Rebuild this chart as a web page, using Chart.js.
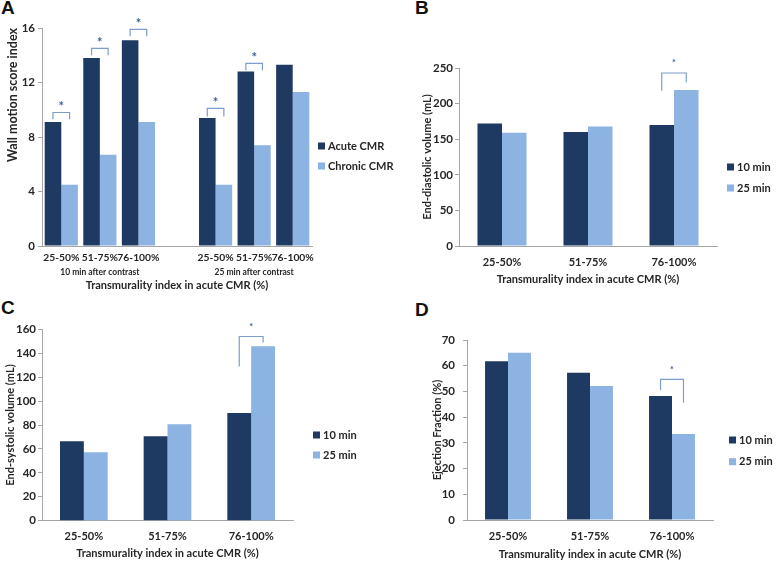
<!DOCTYPE html>
<html>
<head>
<meta charset="utf-8">
<script src="https://cdn.jsdelivr.net/npm/chart.js@4"></script>
<style>
  body { margin: 0; background: #fff; width: 778px; height: 562px; position: relative; overflow: hidden; }
  canvas { position: absolute; }
  .tag { position: absolute; font: bold 19px "Liberation Sans", Arial, sans-serif; color: #111; line-height: 1; }
</style>
</head>
<body>
<div class="tag" style="left:1px;top:-2px">A</div>
<div class="tag" style="left:415px;top:-2px">B</div>
<div class="tag" style="left:1px;top:298px">C</div>
<div class="tag" style="left:415px;top:300px">D</div>
<canvas id="chartA" width="400" height="295" style="left:0;top:0"></canvas>
<canvas id="chartB" width="389" height="295" style="left:389px;top:0"></canvas>
<canvas id="chartC" width="389" height="267" style="left:0;top:295px"></canvas>
<canvas id="chartD" width="389" height="267" style="left:389px;top:295px"></canvas>
<script>
// --- datos ---
const catsA = ['25-50%', '51-75%', '76-100%', '', '25-50%', '51-75%', '76-100%'];
const groupsA = ['', '10 min after contrast', '', '', '', '25 min after contrast', ''];
const acuteA = [9.1, 13.8, 15.1, null, 9.4, 12.8, 13.3];
const chronicA = [4.5, 6.7, 9.1, null, 4.5, 7.4, 11.3];

const cats = ['25-50%', '51-75%', '76-100%'];
const edv10 = [172, 160, 170];
const edv25 = [159, 168, 219];
const esv10 = [66.5, 70.6, 90];
const esv25 = [57.2, 80.6, 145.8];
const ef10 = [61.7, 57.3, 48.2];
const ef25 = [65, 52.1, 33.4];

// corchetes de significancia: categoria, altura del corchete, fin de cada pata
const sigA = [
  { cat: 0, top: 9.8, left: 9.3, right: 9.3 },
  { cat: 1, top: 14.5, left: 14.0, right: 14.0 },
  { cat: 2, top: 15.9, left: 15.4, right: 15.4 },
  { cat: 4, top: 10.1, left: 9.5, right: 9.5 },
  { cat: 5, top: 13.4, left: 12.9, right: 12.9 }
];
const sigB = [{ cat: 2, top: 243, left: 218, right: 230 }];
const sigC = [{ cat: 2, top: 154, left: 129, right: 149 }];
const sigD = [{ cat: 2, top: 54.7, left: 50.6, right: 45.6 }];

// --- estilos ---
const navy = '#1f3a62';
const sky = '#8db3e2';
const axisGray = '#a6a6a6';
const bracketBlue = '#7d9dcc';

Chart.defaults.font.family = 'Lato, "Open Sans", sans-serif';
Chart.defaults.color = '#262626';
Chart.defaults.animation = false;

// leyenda a la derecha, dibujada a mano
function legendPlugin(x, y, gap) {
  return {
    id: 'sideLegend',
    afterDraw(chart) {
      const ctx = chart.ctx;
      ctx.save();
      chart.data.datasets.forEach((ds, i) => {
        const yy = y + i * gap;
        ctx.fillStyle = ds.backgroundColor;
        ctx.fillRect(x, yy - 3.5, 7, 7);
        ctx.fillStyle = '#262626';
        ctx.font = 'bold 11px Lato, sans-serif';
        ctx.textBaseline = 'middle';
        ctx.textAlign = 'left';
        ctx.fillText(ds.label, x + 10, yy);
      });
      ctx.restore();
    }
  };
}

// corchetes con asterisco
function bracketPlugin(marks, starFont, starGap) {
  return {
    id: 'sigBrackets',
    afterDatasetsDraw(chart) {
      const ctx = chart.ctx;
      const y = chart.scales.y;
      const m0 = chart.getDatasetMeta(0);
      const m1 = chart.getDatasetMeta(1);
      ctx.save();
      ctx.strokeStyle = bracketBlue;
      ctx.lineWidth = 1.2;
      marks.forEach(s => {
        const x0 = m0.data[s.cat].x;
        const x1 = m1.data[s.cat].x;
        const yt = y.getPixelForValue(s.top);
        ctx.beginPath();
        ctx.moveTo(x0, y.getPixelForValue(s.left));
        ctx.lineTo(x0, yt);
        ctx.lineTo(x1, yt);
        ctx.lineTo(x1, y.getPixelForValue(s.right));
        ctx.stroke();
        ctx.fillStyle = '#3b5f95';
        ctx.font = starFont;
        ctx.textAlign = 'center';
        ctx.textBaseline = 'middle';
        ctx.fillText('*', (x0 + x1) / 2, yt - starGap);
      });
      ctx.restore();
    }
  };
}

// rótulos de grupo bajo el eje x (panel A)
function groupPlugin(groups, yPos) {
  return {
    id: 'groupLabels',
    afterDraw(chart) {
      const ctx = chart.ctx;
      const x = chart.scales.x;
      ctx.save();
      ctx.fillStyle = '#262626';
      ctx.font = 'bold 8.5px Lato, sans-serif';
      ctx.textAlign = 'center';
      ctx.textBaseline = 'middle';
      groups.forEach((g, i) => {
        if (g) ctx.fillText(g, x.getPixelForValue(i), yPos);
      });
      ctx.restore();
    }
  };
}

function yAxis(max, step, width, pad, title, titleSize, titlePad, align) {
  return {
    min: 0, max: max,
    ticks: { stepSize: step, padding: pad, font: { size: 11.5, weight: 'bold' } },
    grid: { drawOnChartArea: false, tickLength: 4, color: axisGray },
    border: { color: axisGray },
    title: { display: true, text: title, align: align || 'center', font: { size: titleSize, weight: 'bold' }, padding: { top: titlePad } },
    afterFit: s => { s.width = width; }
  };
}

function xAxis(height, pad, title, titlePad, tickSize) {
  return {
    grid: { display: false, drawTicks: false },
    border: { color: axisGray },
    ticks: { padding: pad, font: { size: tickSize || 11, weight: 'bold' }, maxRotation: 0, autoSkip: false },
    title: { display: true, text: title, font: { size: 11, weight: 'bold' }, padding: { bottom: titlePad } },
    afterFit: s => { s.height = height; }
  };
}

function datasets(lab1, d1, lab2, d2, catPct) {
  return [
    { label: lab1, data: d1, backgroundColor: navy, barPercentage: 1, categoryPercentage: catPct },
    { label: lab2, data: d2, backgroundColor: sky, barPercentage: 1, categoryPercentage: catPct }
  ];
}

const axisTitle = 'Transmurality index in acute CMR (%)';

// Panel A
new Chart(document.getElementById('chartA'), {
  type: 'bar',
  data: { labels: catsA, datasets: datasets('Acute CMR', acuteA, 'Chronic CMR', chronicA, 0.86) },
  options: {
    responsive: false,
    layout: { padding: { top: 28, right: 88, left: 0, bottom: 0 } },
    plugins: { legend: { display: false }, tooltip: { enabled: false } },
    scales: {
      x: xAxis(49, 5.6, axisTitle, 2.9, 10.3),
      y: yAxis(16, 4, 42, 3, 'Wall motion score index', 12.5, 5.8, 'end')
    }
  },
  plugins: [legendPlugin(318, 146, 20), bracketPlugin(sigA, 'bold 13px Lato, sans-serif', 6), groupPlugin(groupsA, 272)]
});

// Panel B
new Chart(document.getElementById('chartB'), {
  type: 'bar',
  data: { labels: cats, datasets: datasets('10 min', edv10, '25 min', edv25, 0.57) },
  options: {
    responsive: false,
    layout: { padding: { top: 68, right: 61, left: 0, bottom: 0 } },
    plugins: { legend: { display: false }, tooltip: { enabled: false } },
    scales: {
      x: xAxis(49, 9.4, axisTitle, 9.4),
      y: yAxis(250, 50, 70, 2, 'End-diastolic volume (mL)', 11, 31.4)
    }
  },
  plugins: [legendPlugin(338, 167, 21), bracketPlugin(sigB, 'bold 9px Lato, sans-serif', 10)]
});

// Panel C
new Chart(document.getElementById('chartC'), {
  type: 'bar',
  data: { labels: cats, datasets: datasets('10 min', esv10, '25 min', esv25, 0.57) },
  options: {
    responsive: false,
    layout: { padding: { top: 34.3, right: 96, left: 0, bottom: 0 } },
    plugins: { legend: { display: false }, tooltip: { enabled: false } },
    scales: {
      x: xAxis(41.3, 9.4, axisTitle, 2.4),
      y: yAxis(160, 20, 42, 2, 'End-systolic volume (mL)', 11, 3.4)
    }
  },
  plugins: [legendPlugin(313, 140, 20), bracketPlugin(sigC, 'bold 9px Lato, sans-serif', 9)]
});

// Panel D
new Chart(document.getElementById('chartD'), {
  type: 'bar',
  data: { labels: cats, datasets: datasets('10 min', ef10, '25 min', ef25, 0.56) },
  options: {
    responsive: false,
    layout: { padding: { top: 45, right: 65, left: 0, bottom: 0 } },
    plugins: { legend: { display: false }, tooltip: { enabled: false } },
    scales: {
      x: xAxis(42, 10, axisTitle, 1.4),
      y: yAxis(70, 10, 78, 8, 'Ejection Fraction (%)', 11, 41.4)
    }
  },
  plugins: [legendPlugin(340, 145, 21.7), bracketPlugin(sigD, 'bold 9px Lato, sans-serif', 9)]
});
</script>
</body>
</html>
